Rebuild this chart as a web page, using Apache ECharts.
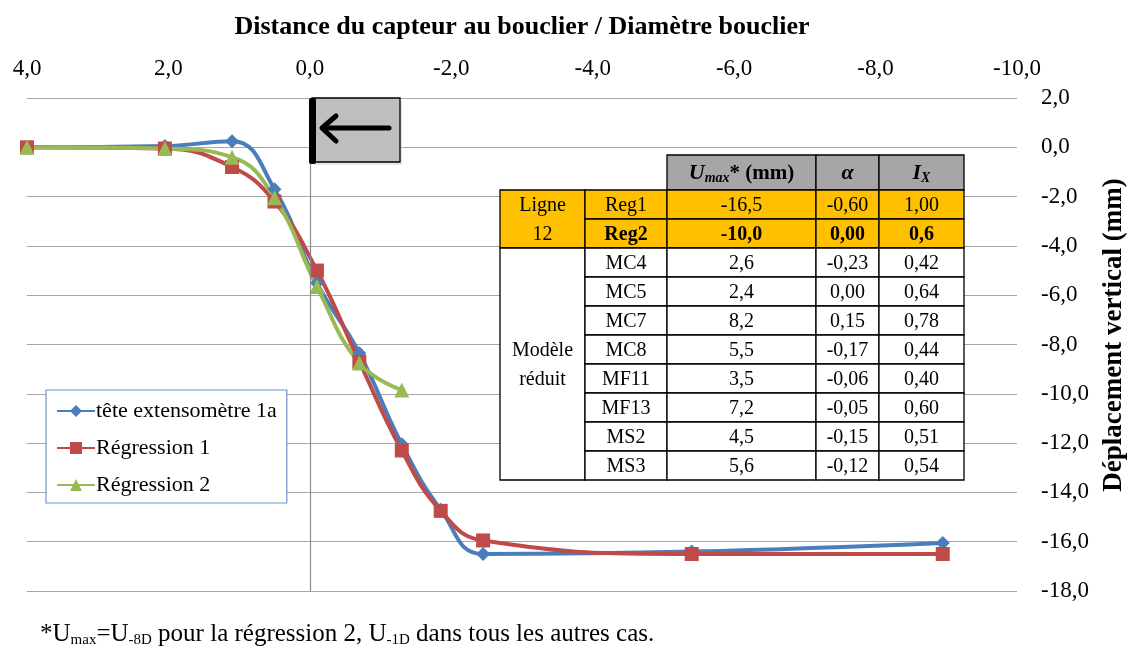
<!DOCTYPE html>
<html><head><meta charset="utf-8">
<script src="https://cdn.jsdelivr.net/npm/echarts@6/dist/echarts.min.js"></script>
<style>html,body{margin:0;padding:0;background:#fff}#c{width:1129px;height:648px}</style>
</head><body><div id="c"></div>
<script>
// ---------- data ----------
const xVals = [4.0, 2.05, 1.1, 0.5, -0.1, -0.7, -1.3, -1.85, -2.45, -5.4, -8.95];
const teteVals = [0, 0.05, 0.25, -1.7, -5.5, -8.35, -12.05, -14.7, -16.5, -16.4, -16.05];
const reg1Vals = [0, -0.05, -0.8, -2.2, -5.0, -8.7, -12.3, -14.75, -15.95, -16.5, -16.5];
const reg2Vals = [0, -0.05, -0.4, -2.05, -5.65, -8.75, -9.85];
const seriesNames = ['tête extensomètre 1a', 'Régression 1', 'Régression 2'];

const xTicks = [-10, -8, -6, -4, -2, 0, 2, 4];
const yTicks = [-18, -16, -14, -12, -10, -8, -6, -4, -2, 0, 2];

const rowNames = ['Reg1', 'Reg2', 'MC4', 'MC5', 'MC7', 'MC8', 'MF11', 'MF13', 'MS2', 'MS3'];
const umaxVals = ['-16,5', '-10,0', '2,6', '2,4', '8,2', '5,5', '3,5', '7,2', '4,5', '5,6'];
const alphaVals = ['-0,60', '0,00', '-0,23', '0,00', '0,15', '-0,17', '-0,06', '-0,05', '-0,15', '-0,12'];
const ixVals = ['1,00', '0,6', '0,42', '0,64', '0,78', '0,44', '0,40', '0,60', '0,51', '0,54'];
const groupLabels = ['Ligne\n12', 'Modèle\nréduit'];
const xTitle = 'Distance du capteur au bouclier / Diamètre bouclier';
const yTitle = 'Déplacement vertical (mm)';

// ---------- chart ----------
const FONT = '"Liberation Serif", "DejaVu Serif", serif';
const fmt = v => v.toFixed(1).replace('.', ',');
const zip = (xs, ys) => ys.map((y, i) => [xs[i], y]);

const chart = echarts.init(document.getElementById('c'), null, {renderer: 'canvas'});

// table graphics
const tbl = [];
const colX = [500, 585, 667, 816, 879, 964];
const headTop = 155, headH = 35, rowH = 29;
const rowTop = headTop + headH;
const orange = '#ffc000';
const TF = '20px ';
function cell(x0, x1, y0, y1, fill, text, style) {
  tbl.push({type: 'rect', shape: {x: x0, y: y0, width: x1 - x0, height: y1 - y0},
    style: {fill: fill, stroke: '#000', lineWidth: 1.3}, z: 100});
  if (text !== null) {
    tbl.push({type: 'text', x: (x0 + x1) / 2, y: (y0 + y1) / 2 + 1, z: 101,
      style: Object.assign({text: text, fill: '#000', font: TF + FONT, align: 'center', verticalAlign: 'middle'}, style || {})});
  }
}
// header
cell(colX[2], colX[3], headTop, rowTop, '#a6a6a6', null);
tbl.push({type: 'text', x: (colX[2] + colX[3]) / 2, y: headTop + headH / 2 + 1, z: 101,
  style: {text: '{u|U}{s|max}{b|* (mm)}', align: 'center', verticalAlign: 'middle',
    rich: {u: {font: 'italic bold 22px ' + FONT, fill: '#000'},
           s: {font: 'italic bold 14px ' + FONT, fill: '#000', padding: [9, 0, 0, 0]},
           b: {font: 'bold 21px ' + FONT, fill: '#000'}}}});
cell(colX[3], colX[4], headTop, rowTop, '#a6a6a6', 'α', {font: 'italic bold 22px ' + FONT});
cell(colX[4], colX[5], headTop, rowTop, '#a6a6a6', null);
tbl.push({type: 'text', x: (colX[4] + colX[5]) / 2, y: headTop + headH / 2 + 1, z: 101,
  style: {text: '{u|I}{s|X}', align: 'center', verticalAlign: 'middle',
    rich: {u: {font: 'italic bold 22px ' + FONT, fill: '#000'},
           s: {font: 'italic bold 14px ' + FONT, fill: '#000', padding: [9, 0, 0, 0]}}}});
// group cells
cell(colX[0], colX[1], rowTop, rowTop + 2 * rowH, orange, groupLabels[0], {lineHeight: 29});
cell(colX[0], colX[1], rowTop + 2 * rowH, rowTop + rowNames.length * rowH, '#fff', groupLabels[1], {lineHeight: 29});
// rows
rowNames.forEach((n, i) => {
  const y0 = rowTop + i * rowH, y1 = y0 + rowH;
  const fill = i < 2 ? orange : '#fff';
  const st = i === 1 ? {font: 'bold ' + TF + FONT} : {};
  cell(colX[1], colX[2], y0, y1, fill, n, st);
  cell(colX[2], colX[3], y0, y1, fill, umaxVals[i], st);
  cell(colX[3], colX[4], y0, y1, fill, alphaVals[i], st);
  cell(colX[4], colX[5], y0, y1, fill, ixVals[i], st);
});

// arrow box
const arrow = [
  {type: 'rect', shape: {x: 314, y: 101, width: 88, height: 64}, style: {fill: '#d0d0d0', opacity: 0.5}, z: 99},
  {type: 'rect', shape: {x: 312, y: 98, width: 88, height: 64}, style: {fill: '#bfbfbf', stroke: '#000', lineWidth: 1.3}, z: 100},
  {type: 'rect', shape: {x: 309, y: 98, width: 7, height: 66, r: 2}, style: {fill: '#000'}, z: 101},
  {type: 'polyline', shape: {points: [[389, 128], [324, 128]]}, style: {stroke: '#000', lineWidth: 5, lineCap: 'round'}, z: 101},
  {type: 'polyline', shape: {points: [[336, 116], [322, 128], [336, 141]]}, style: {stroke: '#000', fill: null, lineWidth: 5, lineCap: 'round', lineJoin: 'round'}, z: 101}
];

const titles = [
  {type: 'text', x: 522, y: 27, z: 100,
    style: {text: xTitle, font: 'bold 26px ' + FONT, fill: '#000', align: 'center', verticalAlign: 'middle'}},
  {type: 'text', x: 1114, y: 335, rotation: Math.PI / 2, z: 100,
    style: {text: yTitle, font: 'bold 27px ' + FONT, fill: '#000', align: 'center', verticalAlign: 'middle'}}
];

const footnote = {type: 'text', left: 40, top: 622, z: 100,
  style: {text: '{n|*U}{s|max}{n|=U}{s|-8D}{n| pour la régression 2, U}{s|-1D}{n| dans tous les autres cas.}',
    rich: {n: {font: '25px ' + FONT, fill: '#000'},
           s: {font: '15px ' + FONT, fill: '#000', padding: [12, 0, 0, 0]}}}};

const colors = ['#4a7ebb', '#be4b48', '#98b954'];
const option = {
  animation: false,
  color: colors,
  grid: {left: 27, right: 112, top: 98, bottom: 57, containLabel: false, outerBoundsMode: 'none'},
  xAxis: {
    type: 'value', position: 'top', inverse: true, min: -10, max: 4, interval: 2,
    axisLine: {show: false}, axisTick: {show: false}, splitLine: {show: false},
    axisLabel: {fontFamily: FONT, fontSize: 23, color: '#000', margin: 18, formatter: v => xTicks.includes(v) ? fmt(v) : ''}
  },
  yAxis: {
    type: 'value', position: 'right', min: -18, max: 2, interval: 2,
    axisLine: {show: false}, axisTick: {show: false},
    splitLine: {show: true, lineStyle: {color: '#a6a6a6', width: 1.2}},
    axisLabel: {fontFamily: FONT, fontSize: 23, color: '#000', margin: 24, showMinLabel: true, showMaxLabel: true,
      formatter: v => yTicks.includes(v) ? fmt(v) : ''}
  },
  legend: {
    orient: 'vertical', left: 46, top: 390, data: seriesNames,
    backgroundColor: '#fff', borderColor: '#6f95c8', borderWidth: 1.2,
    padding: [10, 10, 7, 10], itemWidth: 38, itemHeight: 15, itemGap: 15,
    textStyle: {fontFamily: FONT, fontSize: 22, color: '#000', lineHeight: 22, padding: [0, 0, 0, -4]}
  },
  graphic: {elements: tbl.concat(arrow, titles, [footnote])},
  series: [
    {name: seriesNames[0], type: 'line', data: zip(xVals, teteVals), smooth: 0.45,
      symbol: 'diamond', symbolSize: 14, lineStyle: {width: 4}, itemStyle: {color: colors[0]},
      markLine: {silent: true, symbol: 'none', label: {show: false},
        lineStyle: {color: '#8c8c8c', width: 1.2, type: 'solid'}, data: [{xAxis: 0}]}},
    {name: seriesNames[1], type: 'line', data: zip(xVals, reg1Vals), smooth: 0.45,
      symbol: 'rect', symbolSize: 14, lineStyle: {width: 4}, itemStyle: {color: colors[1]}},
    {name: seriesNames[2], type: 'line', data: zip(xVals, reg2Vals), smooth: 0.45,
      symbol: 'triangle', symbolSize: 15, lineStyle: {width: 4}, itemStyle: {color: colors[2]}}
  ]
};
chart.setOption(option);
</script></body></html>
